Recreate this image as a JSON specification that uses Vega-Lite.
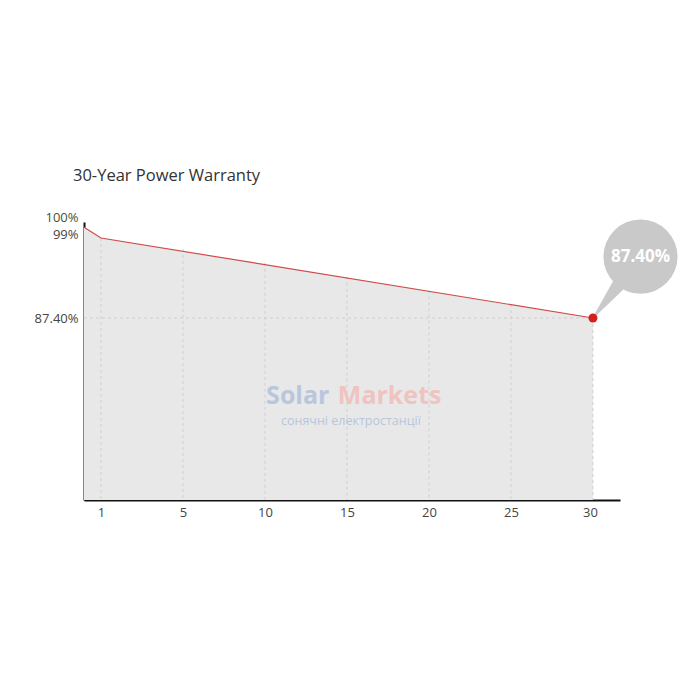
{
  "$schema": "https://vega.github.io/schema/vega-lite/v6.json",
  "autosize": {"type": "none"},
  "width": 536,
  "height": 278,
  "padding": {"left": 84, "top": 222, "right": 80, "bottom": 200},
  "background": "white",
  "config": {"view": {"stroke": null}, "font": "Open Sans"},
  "title": {
    "text": "30-Year Power Warranty",
    "anchor": "start",
    "frame": "group",
    "dx": -11,
    "offset": 27,
    "font": "Open Sans",
    "fontSize": 16.5,
    "fontWeight": "normal",
    "color": "#333333"
  },
  "datasets": {
    "curve": [
      {"year": 0, "pct": 100},
      {"year": 1, "pct": 99},
      {"year": 30, "pct": 87.4}
    ],
    "grid": [
      {"year": 1, "pct": 99},
      {"year": 5, "pct": 97.4},
      {"year": 10, "pct": 95.4},
      {"year": 15, "pct": 93.4},
      {"year": 20, "pct": 91.4},
      {"year": 25, "pct": 89.4},
      {"year": 30, "pct": 87.4}
    ],
    "tail": [
      {"year": 30, "pct": 87.4, "w": 1},
      {"year": 32.9, "pct": 96.3, "w": 24}
    ],
    "bubble": [
      {"year": 32.9, "pct": 96.3, "label": "87.40%"}
    ],
    "end": [
      {"year": 30, "pct": 87.4}
    ],
    "brand": [
      {"year": 12.0, "pct": 76.1, "label": "Solar", "part": "a"},
      {"year": 17.6, "pct": 76.1, "label": "Markets", "part": "b"}
    ],
    "sub": [
      {"year": 15.24, "pct": 72.5, "label": "сонячні електростанції"}
    ]
  },
  "layer": [
    {
      "data": {"name": "curve"},
      "mark": {"type": "area", "color": "#e8e8e8"},
      "encoding": {
        "x": {"field": "year", "type": "quantitative",
          "scale": {"domain": [0, 1, 5, 31.65], "range": [0, 17, 99, 536], "nice": false, "zero": false},
          "axis": {
            "values": [1, 5, 10, 15, 20, 25, 30],
            "title": null,
            "grid": false,
            "ticks": false,
            "domainColor": "#111111",
            "domainWidth": 2,
            "labelFont": "Open Sans",
            "labelFontSize": 13,
            "labelColor": "#444444",
            "labelPadding": 6,
            "labelOffset": {"condition": {"test": "datum.value == 30", "value": -3}, "value": 0}
          }
        },
        "y": {"field": "pct", "type": "quantitative", "stack": null,
          "scale": {"domain": [61, 87.4, 99, 100.5], "range": [278, 96, 16, 0], "nice": false, "zero": false},
          "axis": {
            "values": [100, 99, 87.4],
            "title": null,
            "grid": false,
            "ticks": false,
            "domainColor": "#111111",
            "domainWidth": 2,
            "labelFont": "Open Sans",
            "labelFontSize": 13,
            "labelColor": {"condition": {"test": "datum.value == 100", "value": "#46532f"}, "value": "#444444"},
            "labelPadding": 6,
            "labelOffset": {"condition": [{"test": "datum.value == 100", "value": -10}, {"test": "datum.value == 99", "value": -4}], "value": 0},
            "labelExpr": "datum.value == 87.4 ? '87.40%' : datum.value + '%'"
          }
        },
        "y2": {"datum": 61}
      }
    },
    {
      "data": {"name": "grid"},
      "mark": {"type": "rule", "color": "#cfcfcf", "strokeDash": [3, 3], "strokeWidth": 1},
      "encoding": {
        "x": {"field": "year", "type": "quantitative"},
        "y": {"field": "pct", "type": "quantitative"},
        "y2": {"datum": 61}
      }
    },
    {
      "data": {"values": [{"pct": 87.4}]},
      "mark": {"type": "rule", "color": "#cfcfcf", "strokeDash": [3, 3], "strokeWidth": 1},
      "encoding": {
        "x": {"datum": 0},
        "x2": {"datum": 30},
        "y": {"field": "pct", "type": "quantitative"}
      }
    },
    {
      "data": {"name": "brand"},
      "mark": {"type": "text", "fontSize": 25, "fontWeight": "bold", "font": "Open Sans", "align": "center", "baseline": "middle"},
      "encoding": {
        "x": {"field": "year", "type": "quantitative"},
        "y": {"field": "pct", "type": "quantitative"},
        "text": {"field": "label"},
        "color": {"field": "part", "type": "nominal", "scale": {"domain": ["a", "b"], "range": ["#b9c6dc", "#efc4c0"]}, "legend": null}
      }
    },
    {
      "data": {"name": "sub"},
      "mark": {"type": "text", "fontSize": 12.5, "letterSpacing": 0.9, "font": "Open Sans", "color": "#b9c6dc", "align": "center", "baseline": "middle"},
      "encoding": {
        "x": {"field": "year", "type": "quantitative"},
        "y": {"field": "pct", "type": "quantitative"},
        "text": {"field": "label"}
      }
    },
    {
      "data": {"name": "curve"},
      "mark": {"type": "line", "color": "#cf4a4a", "strokeWidth": 1.2},
      "encoding": {
        "x": {"field": "year", "type": "quantitative"},
        "y": {"field": "pct", "type": "quantitative"}
      }
    },
    {
      "data": {"name": "tail"},
      "mark": {"type": "trail", "color": "#c9c9c9", "clip": false},
      "encoding": {
        "x": {"field": "year", "type": "quantitative"},
        "y": {"field": "pct", "type": "quantitative"},
        "size": {"field": "w", "type": "quantitative", "scale": {"domain": [1, 24], "range": [1, 24]}, "legend": null}
      }
    },
    {
      "data": {"name": "bubble"},
      "mark": {"type": "point", "shape": "circle", "filled": true, "color": "#c9c9c9", "opacity": 1, "size": 5500, "clip": false},
      "encoding": {
        "x": {"field": "year", "type": "quantitative"},
        "y": {"field": "pct", "type": "quantitative"}
      }
    },
    {
      "data": {"name": "bubble"},
      "mark": {"type": "text", "color": "white", "fontSize": 17, "fontWeight": "bold", "font": "Open Sans", "align": "center", "baseline": "middle"},
      "encoding": {
        "x": {"field": "year", "type": "quantitative"},
        "y": {"field": "pct", "type": "quantitative"},
        "text": {"field": "label"}
      }
    },
    {
      "data": {"name": "end"},
      "mark": {"type": "point", "shape": "circle", "filled": true, "color": "#d41f1f", "opacity": 1, "size": 80},
      "encoding": {
        "x": {"field": "year", "type": "quantitative"},
        "y": {"field": "pct", "type": "quantitative"}
      }
    }
  ]
}
